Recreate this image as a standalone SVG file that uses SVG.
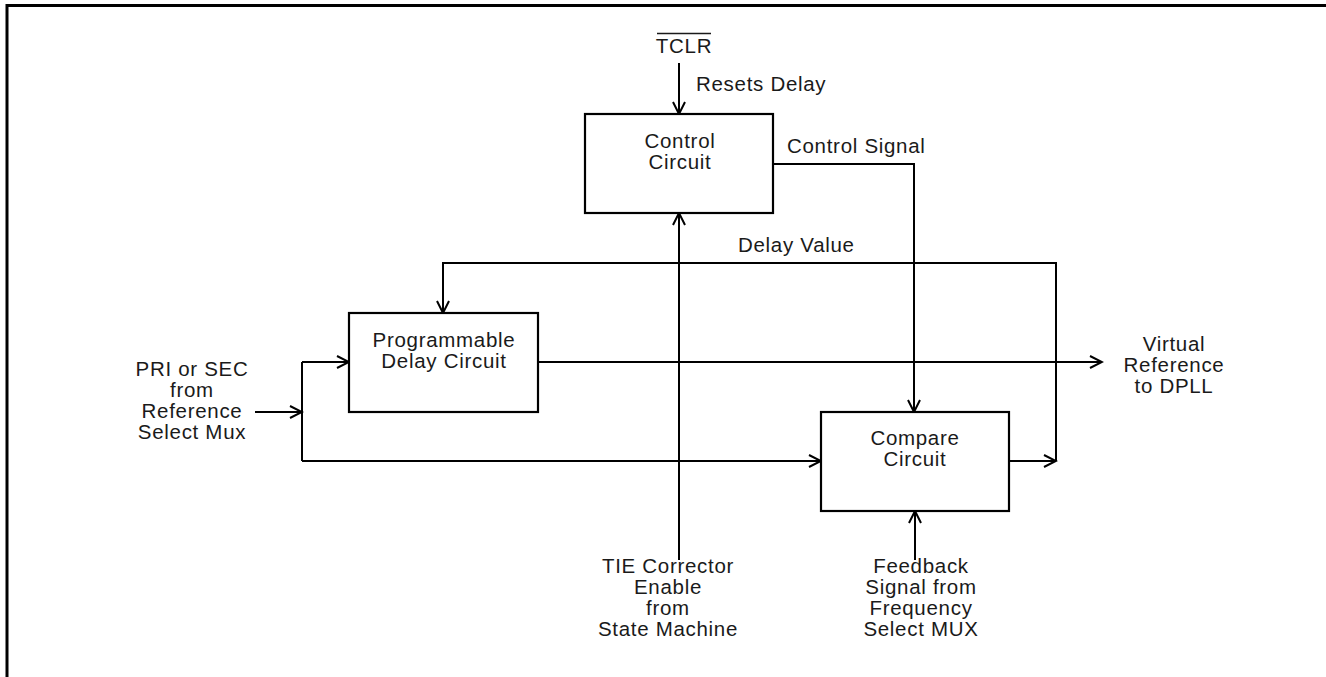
<svg xmlns="http://www.w3.org/2000/svg" width="1326" height="677" viewBox="0 0 1326 677">
<defs>
<marker id="arr" markerUnits="userSpaceOnUse" markerWidth="16" markerHeight="16" viewBox="-14 -8 16 16" refX="0" refY="0" orient="auto">
<path d="M-12,-6 L0,0 L-12,6" fill="none" stroke="#000" stroke-width="2"/>
</marker>
<style>
.box{fill:#fff;stroke:#000;stroke-width:2.2}
.wire{fill:none;stroke:#000;stroke-width:2}
.t{font-family:"Liberation Sans",Arial,sans-serif;font-size:20.5px;letter-spacing:0.7px;fill:#1a1a1a}
.c{text-anchor:middle}
</style>
</defs>
<rect width="1326" height="677" fill="#fff"/>
<g id="border">
<path d="M7,677 V5.5 H1326" fill="none" stroke="#000" stroke-width="3"/>
</g>
<g id="connectors">
<path class="wire" d="M679,63 V114" marker-end="url(#arr)"/>
<path class="wire" d="M773,164 H914 V412" marker-end="url(#arr)"/>
<path class="wire" d="M679,560 V213" marker-end="url(#arr)"/>
<path class="wire" d="M1009,461 H1056" marker-end="url(#arr)"/>
<path class="wire" d="M1056,461 V263 H443 V313" marker-end="url(#arr)"/>
<path class="wire" d="M538,362 H1102" marker-end="url(#arr)"/>
<path class="wire" d="M255,412 H302" marker-end="url(#arr)"/>
<path class="wire" d="M302,362 V461"/>
<path class="wire" d="M302,362 H349" marker-end="url(#arr)"/>
<path class="wire" d="M302,461 H821" marker-end="url(#arr)"/>
<path class="wire" d="M915,560 V511" marker-end="url(#arr)"/>
</g>
<g id="control">
<rect class="box" x="585" y="114" width="188" height="99"/>
<text class="t c" x="680" y="148">Control</text>
<text class="t c" x="680" y="169">Circuit</text>
</g>
<g id="programmable">
<rect class="box" x="349" y="313" width="189" height="99"/>
<text class="t c" x="444" y="347">Programmable</text>
<text class="t c" x="444" y="368">Delay Circuit</text>
</g>
<g id="compare">
<rect class="box" x="821" y="412" width="188" height="99"/>
<text class="t c" x="915" y="445">Compare</text>
<text class="t c" x="915" y="466">Circuit</text>
</g>
<g id="labels">
<text class="t c" x="684" y="53">TCLR</text>
<line x1="657" y1="33.5" x2="711" y2="33.5" stroke="#1a1a1a" stroke-width="1.5"/>
<text class="t" x="696" y="91">Resets Delay</text>
<text class="t" x="787" y="153">Control Signal</text>
<text class="t" x="738" y="252">Delay Value</text>
<text class="t c" x="192" y="376">PRI or SEC</text>
<text class="t c" x="192" y="397">from</text>
<text class="t c" x="192" y="418">Reference</text>
<text class="t c" x="192" y="439">Select Mux</text>
<text class="t c" x="1174" y="351">Virtual</text>
<text class="t c" x="1174" y="372">Reference</text>
<text class="t c" x="1174" y="393">to DPLL</text>
<text class="t c" x="668" y="573">TIE Corrector</text>
<text class="t c" x="668" y="594">Enable</text>
<text class="t c" x="668" y="615">from</text>
<text class="t c" x="668" y="636">State Machine</text>
<text class="t c" x="921" y="573">Feedback</text>
<text class="t c" x="921" y="594">Signal from</text>
<text class="t c" x="921" y="615">Frequency</text>
<text class="t c" x="921" y="636">Select MUX</text>
</g>
</svg>
